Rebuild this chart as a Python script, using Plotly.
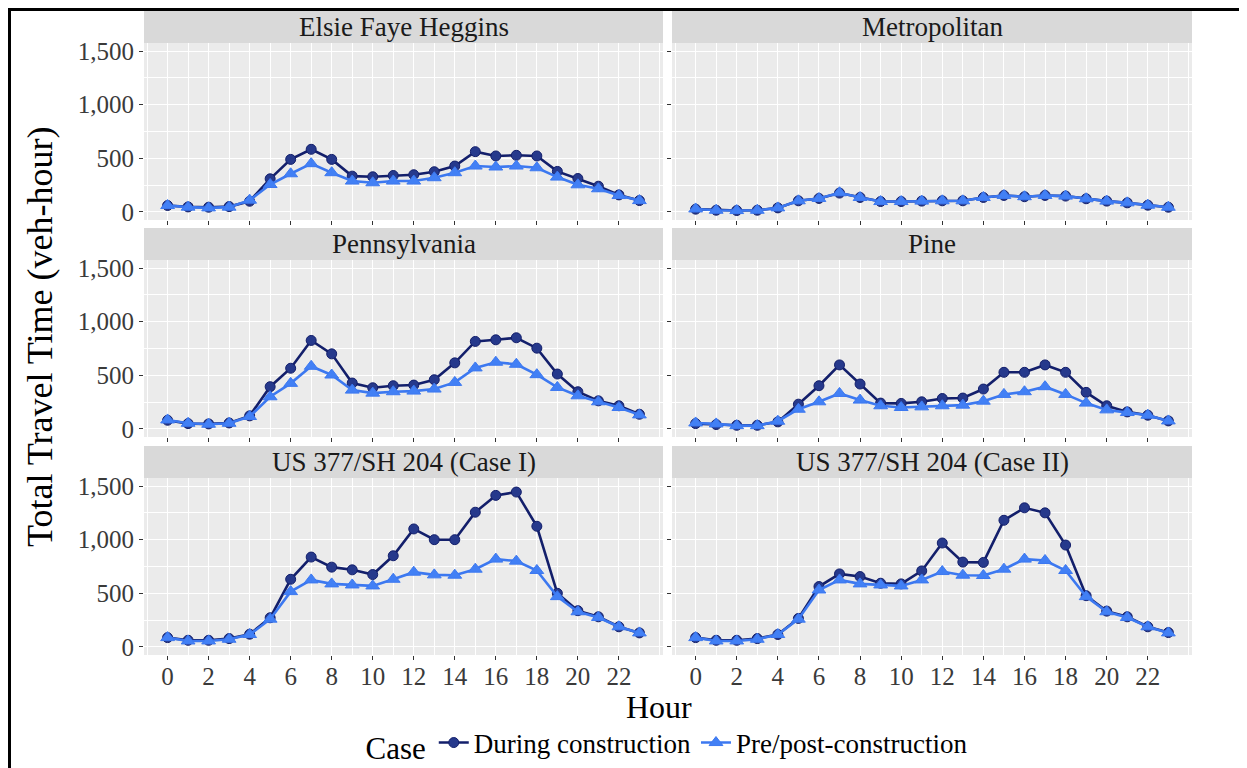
import plotly.graph_objects as go

hours = list(range(24))

panels = ["Elsie Faye Heggins", "Metropolitan", "Pennsylvania", "Pine",
          "US 377/SH 204 (Case I)", "US 377/SH 204 (Case II)"]

elsie_during = [60, 47, 44, 50, 100, 309, 490, 584, 490, 334, 328, 340, 347, 375, 428, 562, 522, 528, 522, 378, 312, 240, 159, 106]
elsie_pre = [60, 45, 38, 45, 110, 256, 356, 450, 366, 288, 272, 288, 288, 319, 366, 428, 419, 428, 412, 325, 253, 216, 153, 106]

metro_during = [26, 16, 13, 16, 38, 104, 126, 176, 135, 97, 97, 101, 104, 104, 135, 154, 142, 154, 148, 123, 101, 85, 63, 44]
metro_pre = [28, 16, 13, 16, 38, 104, 126, 179, 135, 97, 97, 101, 104, 104, 135, 154, 142, 154, 148, 123, 101, 85, 63, 44]

penn_during = [81, 50, 47, 56, 122, 394, 566, 825, 700, 428, 384, 403, 409, 459, 616, 816, 831, 850, 753, 512, 347, 262, 216, 137]
penn_pre = [84, 53, 44, 53, 116, 300, 425, 584, 503, 362, 334, 347, 353, 372, 434, 569, 622, 603, 506, 387, 309, 253, 200, 131]

pine_during = [50, 41, 34, 34, 66, 231, 403, 597, 419, 241, 238, 253, 284, 288, 372, 528, 528, 597, 528, 341, 216, 159, 128, 75]
pine_pre = [56, 47, 31, 31, 72, 184, 253, 331, 269, 216, 200, 206, 216, 222, 259, 322, 347, 394, 322, 241, 178, 153, 128, 75]

us1_during = [87, 62, 62, 78, 119, 272, 631, 838, 744, 719, 675, 850, 1100, 1000, 1000, 1256, 1413, 1444, 1125, 500, 338, 281, 188, 131]
us1_pre = [87, 56, 56, 72, 116, 259, 516, 625, 588, 578, 569, 631, 697, 672, 669, 725, 819, 800, 713, 469, 328, 275, 188, 131]

us2_during = [87, 62, 62, 78, 116, 266, 563, 681, 656, 594, 588, 709, 969, 791, 788, 1181, 1297, 1250, 950, 478, 334, 281, 188, 134]
us2_pre = [87, 56, 56, 72, 116, 259, 531, 625, 588, 578, 569, 625, 703, 669, 666, 725, 819, 806, 713, 469, 328, 275, 188, 131]

during = [elsie_during, metro_during, penn_during, pine_during, us1_during, us2_during]
pre = [elsie_pre, metro_pre, penn_pre, pine_pre, us1_pre, us2_pre]

x_tickvals = list(range(0, 24, 2))
y_tickvals = [0, 500, 1000, 1500]

case_names = ["During construction", "Pre/post-construction"]

# page body has an 8px margin; the figure is sized to the remaining area
OFF = 8
W, H = 1247 - OFF, 768 - OFF
FONT = "Liberation Serif, Times New Roman, serif"

# pixel geometry in window coordinates
col_px = [(144, 663), (672, 1192)]
row_px = [(43, 220), (260, 437), (478, 655)]
strip_px = [(11, 43), (228, 260), (446, 478)]

def px_x(p):
    return (p - OFF) / W

def px_y(p):
    return 1 - (p - OFF) / H

DARK_LINE = "#131F6B"
DARK_FILL = "#26398C"
LIGHT_LINE = "#3C78F0"
LIGHT_FILL = "#4280F5"

fig = go.Figure()
layout = dict()
shapes = []
annotations = []

for i, name in enumerate(panels):
    r, c = divmod(i, 2)
    ax = "" if i == 0 else str(i + 1)
    xa = "x" + ax
    ya = "y" + ax
    fig.add_trace(go.Scatter(
        x=hours, y=during[i], mode="lines+markers", name=case_names[0],
        legendgroup="d", showlegend=(i == 0), xaxis=xa, yaxis=ya,
        line=dict(color=DARK_LINE, width=2.6),
        marker=dict(symbol="circle", size=10, color=DARK_FILL,
                    line=dict(color=DARK_LINE, width=1)),
    ))
    fig.add_trace(go.Scatter(
        x=hours, y=pre[i], mode="lines+markers", name=case_names[1],
        legendgroup="p", showlegend=(i == 0), xaxis=xa, yaxis=ya,
        line=dict(color=LIGHT_LINE, width=2.6),
        marker=dict(symbol="triangle-up", size=12, color=LIGHT_FILL,
                    line=dict(color=LIGHT_LINE, width=1)),
    ))
    x0, x1 = col_px[c]
    y0, y1 = row_px[r]
    layout["xaxis" + ax] = dict(
        domain=[px_x(x0), px_x(x1)], anchor=ya, range=[-1.15, 24.15],
        tickmode="array", tickvals=x_tickvals, showticklabels=(r == 2),
        ticks="outside", ticklen=4, tickcolor="#333333", tickwidth=1,
        ticklabelstandoff=-5,
        showgrid=True, gridcolor="white", gridwidth=1.2, zeroline=False,
        minor=dict(dtick=1, tick0=0, showgrid=True, gridcolor="white", gridwidth=0.6),
        tickfont=dict(family=FONT, size=25, color="#3a3a3a"), showline=False,
        fixedrange=True, automargin=False,
    )
    layout["yaxis" + ax] = dict(
        domain=[px_y(y1), px_y(y0)], anchor=xa, range=[-75, 1575],
        tickmode="array", tickvals=y_tickvals, tickformat=",d",
        showticklabels=(c == 0),
        ticks="outside", ticklen=4, tickcolor="#333333", tickwidth=1,
        showgrid=True, gridcolor="white", gridwidth=1.2, zeroline=False,
        minor=dict(dtick=250, tick0=0, showgrid=True, gridcolor="white", gridwidth=0.6),
        tickfont=dict(family=FONT, size=25, color="#3a3a3a"), showline=False,
        fixedrange=True, automargin=False,
    )
    # strip
    s0, s1 = strip_px[r]
    shapes.append(dict(type="rect", xref="paper", yref="paper",
                       x0=px_x(x0), x1=px_x(x1), y0=px_y(s1), y1=px_y(s0),
                       fillcolor="#D9D9D9", line=dict(width=0), layer="below"))
    annotations.append(dict(text=name, xref="paper", yref="paper",
                            x=px_x((x0 + x1) / 2), y=px_y((s0 + s1) / 2),
                            xanchor="center", yanchor="middle", showarrow=False,
                            font=dict(family=FONT, size=27, color="#1A1A1A")))

# frame lines (top and left)
shapes.append(dict(type="line", xref="paper", yref="paper", x0=0, x1=1,
                   y0=px_y(OFF + 1.5), y1=px_y(OFF + 1.5), line=dict(color="black", width=3)))
shapes.append(dict(type="line", xref="paper", yref="paper", x0=px_x(OFF + 1.5), x1=px_x(OFF + 1.5),
                   y0=0, y1=1, line=dict(color="black", width=3)))

annotations.append(dict(text="Total Travel Time (veh-hour)", xref="paper", yref="paper",
                        x=px_x(40), y=px_y(337), textangle=-90, showarrow=False,
                        xanchor="center", yanchor="middle",
                        font=dict(family=FONT, size=36, color="black")))
annotations.append(dict(text="Hour", xref="paper", yref="paper",
                        x=px_x(659), y=px_y(707), showarrow=False,
                        xanchor="center", yanchor="middle",
                        font=dict(family=FONT, size=32, color="black")))

fig.update_layout(
    width=W, height=H, autosize=False,
    margin=dict(l=0, r=0, t=0, b=0, pad=0, autoexpand=False),
    paper_bgcolor="white", plot_bgcolor="#EBEBEB",
    font=dict(family=FONT, color="black"),
    showlegend=True,
    legend=dict(orientation="h", x=px_x(668), y=px_y(744), xanchor="center", yanchor="middle",
                title=dict(text="Case", font=dict(family=FONT, size=31, color="black")),
                font=dict(family=FONT, size=27, color="black"),
                bgcolor="rgba(0,0,0,0)", itemwidth=30),
    shapes=shapes, annotations=annotations,
    **layout,
)

fig.write_html("out.html")
